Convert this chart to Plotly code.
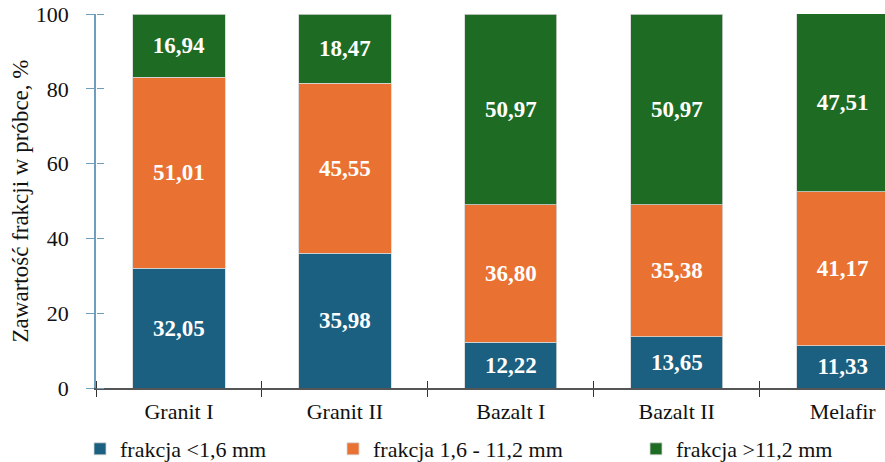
import plotly.graph_objects as go

# Fraction content of aggregate samples (%)
categories = ["Granit I", "Granit II", "Bazalt I", "Bazalt II", "Melafir"]
fine = [32.05, 35.98, 12.22, 13.65, 11.33]        # < 1,6 mm
medium = [51.01, 45.55, 36.80, 35.38, 41.17]      # 1,6 - 11,2 mm
coarse = [16.94, 18.47, 50.97, 50.97, 47.51]      # > 11,2 mm
series_names = ["frakcja <1,6 mm", "frakcja 1,6 - 11,2 mm", "frakcja >11,2 mm"]
y_ticks = [0, 20, 40, 60, 80, 100]

colors = ["#1B5F81", "#E97232", "#1E6B24"]
FONT = "Liberation Serif"
W, H = 885, 462
ML, MR, MT, MB = 96, 0, 14, 74
plot_w, plot_h = W - ML - MR, H - MT - MB
x_range = [-0.5, 4.255]

fig = go.Figure()
legend_ids = ["legend", "legend2", "legend3"]
for name, vals, col, lg in zip(series_names, [fine, medium, coarse], colors, legend_ids):
    fig.add_trace(go.Bar(
        x=categories, y=vals, name=name,
        marker=dict(color=col, line=dict(color="#D6D6D6", width=0.8)),
        width=0.556,
        texttemplate="%{y:.2f}", textposition="inside",
        insidetextanchor="middle", textangle=0,
        textfont=dict(family=FONT, size=23, color="white", weight="bold"),
        legend=lg,
    ))

# legend item positions (pixels from the left of the figure)
legend_px = [80, 333, 636]
legend_py = 449


def legend_at(px):
    return dict(
        x=(px - ML) / plot_w, y=-(legend_py - (H - MB)) / plot_h,
        xanchor="left", yanchor="middle",
        orientation="h", bgcolor="rgba(0,0,0,0)", borderwidth=0,
        font=dict(family=FONT, size=22, color="#111111"),
        itemwidth=30, traceorder="normal",
    )


fig.update_layout(
    width=W, height=H,
    margin=dict(l=ML, r=MR, t=MT, b=MB, autoexpand=False),
    paper_bgcolor="white", plot_bgcolor="white",
    barmode="stack", separators=",.",
    font=dict(family=FONT, color="#111111"),
    legend=legend_at(legend_px[0]),
    legend2=legend_at(legend_px[1]),
    legend3=legend_at(legend_px[2]),
    xaxis=dict(
        type="category", categoryarray=categories,
        range=x_range, showline=True, linecolor="#555555", linewidth=1.5,
        ticks="outside", tickson="boundaries", ticklen=7, tickcolor="#333333",
        tickfont=dict(family=FONT, size=22, color="#111111"),
        ticklabelstandoff=3, showgrid=False, zeroline=False, automargin=False,
    ),
    # mirror axis on the bottom edge whose outward ticks point into the plot,
    # so category boundary ticks cross the axis line
    xaxis2=dict(
        type="category", categoryarray=categories, overlaying="x",
        side="top", anchor="free", position=0,
        range=x_range, showline=False, ticks="outside",
        tickson="boundaries", ticklen=7, tickcolor="#333333", tickwidth=1,
        showticklabels=False, showgrid=False, zeroline=False,
    ),
    yaxis=dict(
        range=[0, 100], tickvals=y_ticks, showline=True,
        linecolor="#6E9DBE", linewidth=1.5, ticks="outside", ticklen=8,
        tickcolor="#6E9DBE", tickfont=dict(family=FONT, size=22, color="#111111"),
        ticklabelstandoff=13, showgrid=False, zeroline=False, automargin=False,
        title=dict(text="Zawartość frakcji w próbce, %", standoff=1,
                   font=dict(family=FONT, size=23, color="#111111")),
    ),
    yaxis2=dict(
        range=[0, 100], tickvals=y_ticks, overlaying="y",
        side="right", anchor="free", position=0,
        showline=False, ticks="outside", ticklen=7, tickcolor="#6E9DBE", tickwidth=1,
        showticklabels=False, showgrid=False, zeroline=False,
    ),
)

# transparent anchor trace so the mirror axes are drawn
fig.add_trace(go.Scatter(x=[categories[0]], y=[0], xaxis="x2", yaxis="y2",
                         mode="markers", marker=dict(opacity=0),
                         showlegend=False, hoverinfo="skip"))

fig.write_html("out.html")
